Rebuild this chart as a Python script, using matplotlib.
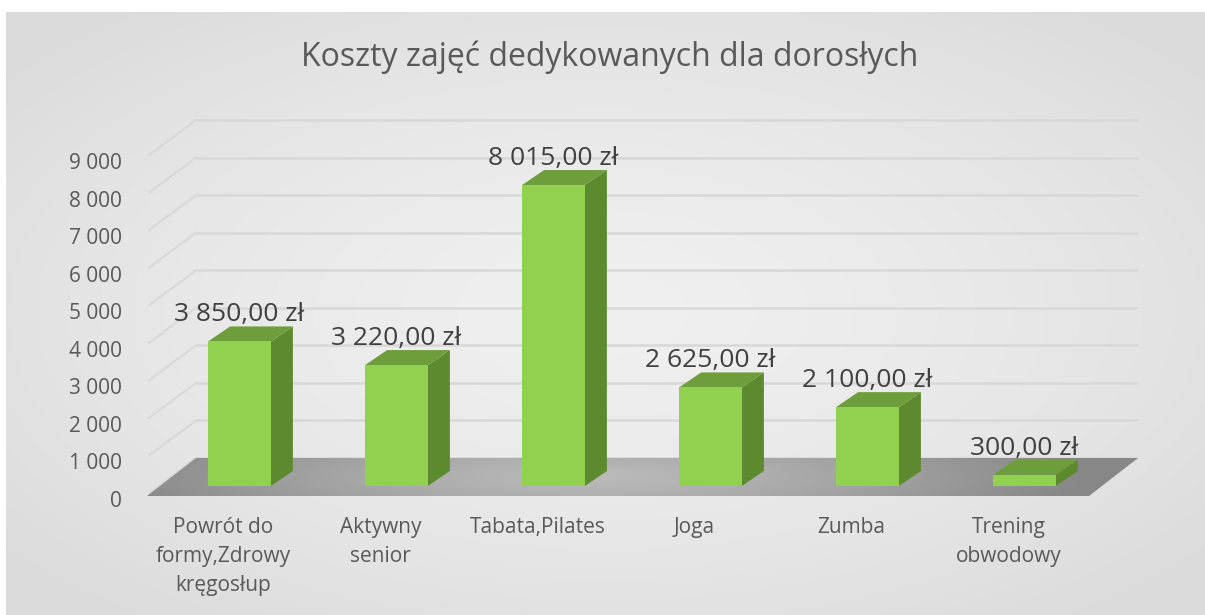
import numpy as np
import matplotlib
matplotlib.use("Agg")
import matplotlib.pyplot as plt
from matplotlib.patches import Polygon
from matplotlib.transforms import Affine2D

# ---- data ----
categories = ["Powrót do\nformy,Zdrowy\nkręgosłup", "Aktywny\nsenior", "Tabata,Pilates",
              "Joga", "Zumba", "Trening\nobwodowy"]
values = [3850, 3220, 8015, 2625, 2100, 300]
value_labels = ["3 850,00 zł", "3 220,00 zł", "8 015,00 zł", "2 625,00 zł", "2 100,00 zł", "300,00 zł"]
yticks = [0, 1000, 2000, 3000, 4000, 5000, 6000, 7000, 8000, 9000]
ytick_labels = ["0", "1 000", "2 000", "3 000", "4 000", "5 000", "6 000", "7 000", "8 000", "9 000"]
title = "Koszty zajęć dedykowanych dla dorosłych"

plt.rcParams['font.family'] = ['Open Sans', 'DejaVu Sans']

W, H, DPI = 1205, 615, 100
fig = plt.figure(figsize=(W / DPI, H / DPI), dpi=DPI)
fig.patch.set_facecolor("white")

# background radial gradient
bg = fig.add_axes([6 / W, 0, (W - 6) / W, (H - 12) / H])
bg.set_axis_off()
gx = np.linspace(-1, 1, 400)
gy = np.linspace(-1, 1, 200)
GX, GY = np.meshgrid(gx, gy)
r = np.clip(np.sqrt(GX ** 2 + (GY * 1.0) ** 2) / 1.3, 0, 1)
c_in, c_out = 0.94, 0.86
img = c_in + (c_out - c_in) * r ** 1.5
bg.imshow(np.dstack([img, img, img]), aspect="auto", extent=[0, 1, 0, 1], zorder=0)
bg.set_xlim(0, 1); bg.set_ylim(0, 1)

# main axes: bar-front plane
x0, x1 = 161, 1103
y0 = H - 486
px_per_1000 = 37.55
ax = fig.add_axes([x0 / W, y0 / H, (x1 - x0) / W, 9 * px_per_1000 / H])
ax.patch.set_alpha(0)
for s in ax.spines.values():
    s.set_visible(False)

ux = (x1 - x0) / 6.0          # px per x unit
uy = px_per_1000 / 1000.0     # px per y unit
def dx(p): return p / ux
def dy(p): return p / uy

# offsets (px) relative to bar-front plane
wall = (35, 28)
front = (-14, -10)
lwall_front = (-12, -7)
bar_depth = (22, 15)

grid_c = "#d8d8d8"
for t in yticks:
    ax.plot([-0.5 + dx(wall[0]), 5.5 + dx(wall[0])], [t + dy(wall[1])] * 2,
            color=grid_c, lw=1.8, clip_on=False, zorder=1, solid_capstyle="butt")
    ax.plot([-0.5 + dx(lwall_front[0]), -0.5 + dx(wall[0])],
            [t + dy(lwall_front[1]), t + dy(wall[1])],
            color=grid_c, lw=1.4, clip_on=False, zorder=1)

# floor
floor_pts = [(-0.5 + dx(front[0]), dy(front[1])), (5.5 + dx(front[0]), dy(front[1])),
             (5.5 + dx(wall[0]), dy(wall[1])), (-0.5 + dx(wall[0]), dy(wall[1]))]
floor = Polygon(floor_pts, closed=True, facecolor="none", edgecolor="none",
                clip_on=False, zorder=2)
ax.add_patch(floor)
fx = np.linspace(-1, 1, 300)
fy = np.linspace(-1, 1, 30)
FX, FY = np.meshgrid(fx, fy)
fr = np.clip(np.sqrt((FX + 0.1) ** 2 + (FY * 0.3) ** 2), 0, 1)
fimg = 0.73 - (0.73 - 0.53) * fr ** 1.3
fim = ax.imshow(np.dstack([fimg, fimg, fimg]), aspect="auto",
                extent=[-0.5 + dx(front[0]), 5.5 + dx(wall[0]), dy(front[1]), dy(wall[1])],
                zorder=2)
fim.set_clip_box(fig.bbox)
fim.set_clip_path(floor)
ax.set_xlim(-0.5, 5.5)
ax.set_ylim(0, 9000)

# bars
idx = np.arange(len(values))
w = 0.40
ax.bar(idx, values, width=w, color="#92d050", zorder=5, clip_on=False)
bdx, bdy = dx(bar_depth[0]), dy(bar_depth[1])
for xi, v in zip(idx, values):
    side = Polygon([(xi + w / 2, 0), (xi + w / 2 + bdx, bdy), (xi + w / 2 + bdx, v + bdy), (xi + w / 2, v)],
                   closed=True, facecolor="#5e8a2f", edgecolor="none", zorder=4, clip_on=False)
    top = Polygon([(xi - w / 2, v), (xi + w / 2, v), (xi + w / 2 + bdx, v + bdy), (xi - w / 2 + bdx, v + bdy)],
                  closed=True, facecolor="#6e9d3c", edgecolor="none", zorder=4, clip_on=False)
    ax.add_patch(side)
    ax.add_patch(top)

for xi, v, lab in zip(idx, values, value_labels):
    ax.annotate(lab, (xi, v), xytext=(0, 20), textcoords="offset pixels",
                ha="center", va="baseline", fontsize=19, color="#404040", zorder=6,
                annotation_clip=False)

# ticks
ax.set_yticks(yticks)
ax.set_yticklabels(ytick_labels)
ax.tick_params(axis="y", length=0, pad=28, labelsize=15, labelcolor="#595959")
for lab in ax.get_yticklabels():
    lab.set_transform(lab.get_transform() + Affine2D().translate(0, -13))

ax.set_xticks(idx)
ax.set_xticklabels(categories, linespacing=1.5)
ax.tick_params(axis="x", length=0, pad=22, labelsize=15, labelcolor="#595959")
for lab in ax.get_xticklabels():
    lab.set_transform(lab.get_transform() + Affine2D().translate(-16, 0))

fig.text(610 / W, 1 - 57 / H, title, ha="center", va="center", fontsize=23, color="#595959")

fig.savefig("out.png", dpi=DPI)
